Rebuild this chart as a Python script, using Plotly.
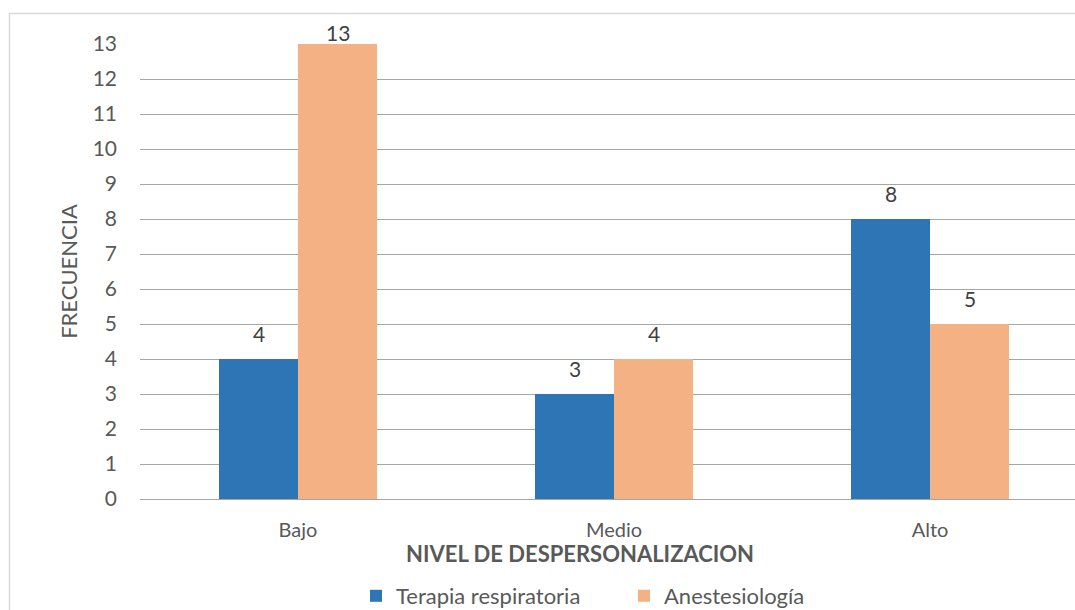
import plotly.graph_objects as go

categories = ["Bajo", "Medio", "Alto"]
terapia = [4, 3, 8]
anestesiologia = [13, 4, 5]
y_ticks = list(range(0, 14))

W, H = 1075, 610
L, R, T, B = 140, 0, 44, 111
pw = W - L - R
ph = H - T - B
y_max = 13

font = "Lato, 'Open Sans', sans-serif"
blue, orange = "#2E75B6", "#F4B183"

fig = go.Figure()
fig.add_trace(go.Bar(x=categories, y=terapia, name="Terapia respiratoria",
                     marker=dict(color=blue, line=dict(width=0))))
fig.add_trace(go.Bar(x=categories, y=anestesiologia, name="Anestesiología",
                     marker=dict(color=orange, line=dict(width=0))))

cat_px = 316.0
xr_end = -0.5 + pw / cat_px
bar_px = cat_px * 0.25

def px2x(px):
    return (px - L) / pw

def py2y(py):
    return (H - B - py) / ph

# data labels
for series, off in ((terapia, -bar_px / 2), (anestesiologia, bar_px / 2)):
    for c, v in zip(categories, series):
        top_px = T + (y_max - v) / y_max * ph
        shift = min(26, top_px - 32)
        fig.add_annotation(x=c, y=v, xref="x", yref="y", text=str(v), showarrow=False,
                           xshift=off, yshift=shift, yanchor="middle", xanchor="center",
                           font=dict(size=21, color="#404040", family=font))

fig.update_layout(
    width=W, height=H,
    margin=dict(l=L, r=R, t=T, b=B, autoexpand=False),
    paper_bgcolor="white", plot_bgcolor="white",
    barmode="group", bargap=0.5, bargroupgap=0,
    font=dict(family=font, color="#595959"),
    xaxis=dict(range=[-0.5, xr_end], showgrid=False, zeroline=False, automargin=False,
               showline=False, ticks="", tickfont=dict(size=20, color="#595959"),
               ticklabelstandoff=17, fixedrange=True),
    yaxis=dict(range=[0, y_max], tickvals=y_ticks, showgrid=True, automargin=False,
               gridcolor="#A6A6A6", gridwidth=1, zeroline=True,
               zerolinecolor="#A6A6A6", zerolinewidth=1, showline=False,
               tickfont=dict(size=21, color="#595959"), ticks="",
               ticklabelstandoff=22,
               title=dict(text="FRECUENCIA", font=dict(size=22, color="#595959"), standoff=8)),
    legend=dict(orientation="h", x=px2x(356), xanchor="left",
                y=py2y(596), yanchor="middle", entrywidth=223, entrywidthmode="pixels",
                font=dict(size=22, color="#595959"), itemwidth=30,
                traceorder="normal"),
    showlegend=True,
)

fig.add_annotation(text="<b>NIVEL DE DESPERSONALIZACION</b>", xref="paper", yref="paper",
                   x=px2x(580), y=py2y(553), xanchor="center", yanchor="middle",
                   showarrow=False, font=dict(size=22, color="#595959", family=font))

fig.add_shape(type="rect", xref="paper", yref="paper",
              x0=px2x(9.5), x1=px2x(1100), y0=py2y(13.5), y1=py2y(700),
              line=dict(color="#D9D9D9", width=1.5), fillcolor="rgba(0,0,0,0)", layer="below")

fig.write_html("out.html")
